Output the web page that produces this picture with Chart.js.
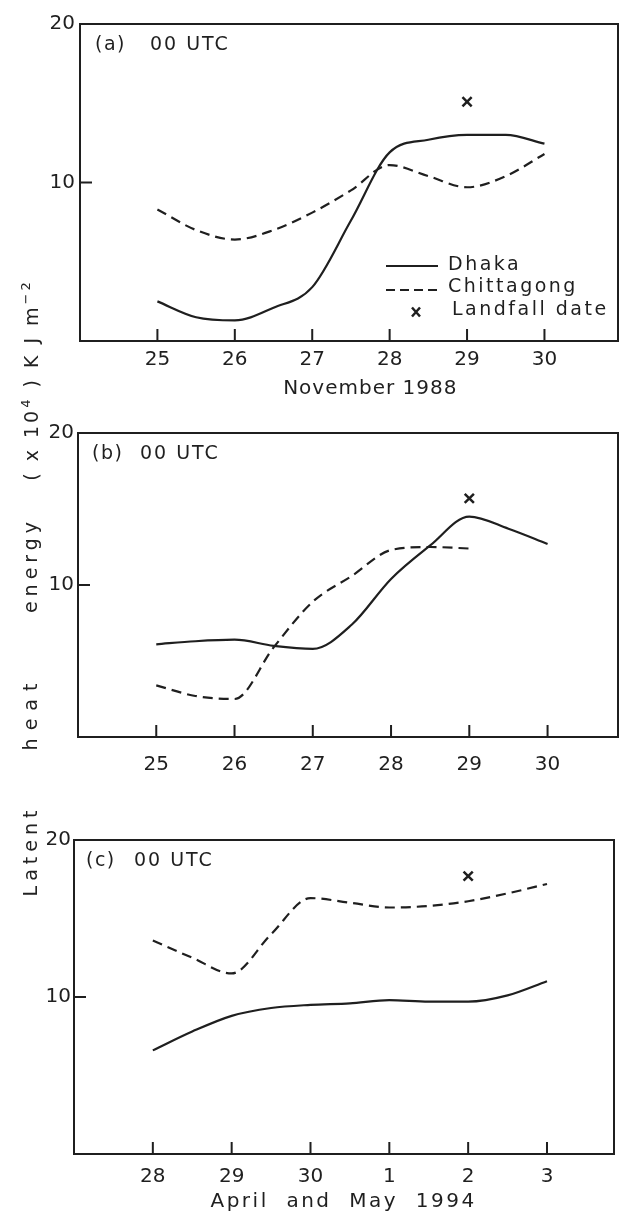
<!DOCTYPE html>
<html>
<head>
<meta charset="utf-8">
<script src="https://cdn.jsdelivr.net/npm/chart.js@4"></script>
<style>
  body { margin: 0; background: #fff; }
  #page { position: relative; width: 627px; height: 1212px; font-family: 'DejaVu Sans', sans-serif; color: #222; }
  .panel { position: absolute; left: 0; width: 627px; }
  .ylab { position: absolute; left: 30px; white-space: nowrap; font-size: 19px; line-height: 1; transform: translate(-50%, -50%) rotate(-90deg); }
  .ylab sup { font-size: 13px; vertical-align: 8px; }
</style>
</head>
<body>
<div id="page">
  <div class="panel" style="top:0;height:400px"><canvas id="chartA"></canvas></div>
  <div class="panel" style="top:410px;height:370px"><canvas id="chartB"></canvas></div>
  <div class="panel" style="top:815px;height:397px"><canvas id="chartC"></canvas></div>
  <span class="ylab" style="top:851px;letter-spacing:5px">Latent</span>
  <span class="ylab" style="top:713px;letter-spacing:8px">heat</span>
  <span class="ylab" style="top:565px;letter-spacing:5px">energy</span>
  <span class="ylab" style="top:380px;letter-spacing:3px">( x 10<sup>4</sup> ) K J m<sup>&minus;2</sup></span>
</div>
<script>
const ink = '#1f1f1f';
Chart.defaults.font.family = 'DejaVu Sans';
Chart.defaults.color = ink;

// (a) November 1988
const aDays = [25, 25.5, 26, 26.5, 27, 27.5, 28, 28.5, 29, 29.5, 30];
const aDhaka = [2.5, 1.5, 1.3, 2.1, 3.4, 7.6, 11.9, 12.7, 13.0, 13.0, 12.45];
const aChittagong = [8.3, 7.0, 6.4, 7.0, 8.1, 9.5, 11.1, 10.4, 9.7, 10.4, 11.8];
const aLandfall = [29, 15.1];
const aTicks = [25, 26, 27, 28, 29, 30];

// (b) November 1988
const bDays = [25, 25.5, 26, 26.5, 27, 27.5, 28, 28.5, 29, 29.5, 30];
const bDhaka = [6.1, 6.3, 6.4, 6.0, 5.8, 7.4, 10.4, 12.6, 14.5, 13.7, 12.7];
const bChittDays = [25, 25.5, 26, 26.5, 27, 27.5, 28, 28.5, 29];
const bChittagong = [3.4, 2.7, 2.5, 5.9, 8.9, 10.6, 12.3, 12.5, 12.4];
const bLandfall = [29, 15.7];
const bTicks = [25, 26, 27, 28, 29, 30];

// (c) April and May 1994 (28 Apr .. 3 May as positions 0..5)
const cDays = [0, 0.5, 1, 1.5, 2, 2.5, 3, 3.5, 4, 4.5, 5];
const cDhaka = [6.6, 7.8, 8.8, 9.3, 9.5, 9.6, 9.8, 9.7, 9.7, 10.1, 11.0];
const cChittagong = [13.6, 12.5, 11.5, 14.0, 16.3, 16.0, 15.7, 15.8, 16.1, 16.6, 17.2];
const cLandfall = [4, 17.7];
const cTicks = [0, 1, 2, 3, 4, 5];
const cTickLabels = ['28', '29', '30', '1', '2', '3'];

const yTicks = [10, 20];

function pts(xs, ys) {
  return xs.map((x, i) => ({ x: x, y: ys[i] }));
}

const decor = {
  id: 'decor',
  afterDatasetsDraw(chart, args, o) {
    const { ctx, chartArea: a, scales } = chart;
    ctx.save();
    ctx.strokeStyle = ink;
    ctx.fillStyle = ink;
    ctx.lineWidth = 2;
    ctx.strokeRect(a.left, a.top, a.right - a.left, a.bottom - a.top);
    ctx.beginPath();
    scales.x.ticks.forEach(t => {
      const px = scales.x.getPixelForValue(t.value);
      ctx.moveTo(px, a.bottom);
      ctx.lineTo(px, a.bottom - 12);
    });
    const py = scales.y.getPixelForValue(10);
    ctx.moveTo(a.left, py);
    ctx.lineTo(a.left + 12, py);
    ctx.stroke();

    ctx.font = '19px "DejaVu Sans"';
    ctx.textBaseline = 'middle';
    ctx.letterSpacing = '1.5px';
    ctx.fillText(o.tag, a.left + o.tagDx, a.top + 21);
    ctx.letterSpacing = '2px';
    ctx.fillText('00 UTC', a.left + o.utcDx, a.top + 21);

    if (o.xTitle) {
      ctx.font = '20px "DejaVu Sans"';
      ctx.letterSpacing = o.xTitleSpacing;
      ctx.textAlign = 'center';
      ctx.fillText(o.xTitle, scales.x.getPixelForValue(o.xTitleAt), o.xTitleY);
      ctx.textAlign = 'left';
    }

    if (o.legend) {
      const L = o.legend;
      ctx.font = '19px "DejaVu Sans"';
      ctx.letterSpacing = '2.5px';
      ctx.lineWidth = 2;
      ctx.beginPath();
      ctx.moveTo(L.x, L.y);
      ctx.lineTo(L.x + 52, L.y);
      ctx.stroke();
      ctx.setLineDash([9, 5]);
      ctx.beginPath();
      ctx.moveTo(L.x, L.y + 24);
      ctx.lineTo(L.x + 54, L.y + 24);
      ctx.stroke();
      ctx.setLineDash([]);
      const mx = L.x + 30, my = L.y + 46;
      ctx.lineWidth = 2.5;
      ctx.beginPath();
      ctx.moveTo(mx - 4, my - 4.5); ctx.lineTo(mx + 4, my + 4.5);
      ctx.moveTo(mx + 4, my - 4.5); ctx.lineTo(mx - 4, my + 4.5);
      ctx.stroke();
      ctx.fillText('Dhaka', L.x + 62, L.y - 1);
      ctx.fillText('Chittagong', L.x + 62, L.y + 21);
      ctx.fillText('Landfall date', L.x + 66, L.y + 44);
    }
    ctx.restore();
  }
};

function makeChart(id, cfg) {
  const lineDs = (label, data, dash) => ({
    label: label,
    data: data,
    borderColor: ink,
    borderWidth: 2.2,
    borderDash: dash,
    pointRadius: 0,
    fill: false,
    cubicInterpolationMode: 'monotone'
  });
  return new Chart(document.getElementById(id), {
    type: 'line',
    data: {
      datasets: [
        lineDs('Dhaka', cfg.dhaka, []),
        lineDs('Chittagong', cfg.chitt, [10, 6]),
        {
          label: 'Landfall date',
          data: [{ x: cfg.landfall[0], y: cfg.landfall[1] }],
          showLine: false,
          pointStyle: 'crossRot',
          pointRadius: 6.5,
          borderColor: ink,
          borderWidth: 2.5
        }
      ]
    },
    options: {
      responsive: true,
      maintainAspectRatio: false,
      animation: false,
      layout: { padding: { top: cfg.top, right: cfg.right, left: 0, bottom: 0 } },
      plugins: {
        legend: { display: false },
        tooltip: { enabled: false },
        decor: cfg.decor
      },
      scales: {
        x: {
          type: 'linear',
          min: cfg.xMin,
          max: cfg.xMax,
          grid: { display: false, drawTicks: false },
          border: { display: false },
          ticks: {
            font: { size: 20 },
            color: ink,
            padding: cfg.xPad,
            callback: cfg.xLabel
          },
          afterBuildTicks: s => { s.ticks = cfg.xTicks.map(v => ({ value: v })); },
          afterFit: s => { s.height = cfg.xHeight; }
        },
        y: {
          min: 0,
          max: 20,
          grid: { display: false, drawTicks: false },
          border: { display: false },
          ticks: { font: { size: 20 }, color: ink, padding: cfg.yPad },
          afterBuildTicks: s => { s.ticks = yTicks.map(v => ({ value: v })); },
          afterFit: s => { s.width = cfg.left; }
        }
      }
    },
    plugins: [decor]
  });
}

makeChart('chartA', {
  dhaka: pts(aDays, aDhaka),
  chitt: pts(aDays, aChittagong),
  landfall: aLandfall,
  xMin: 24, xMax: 30.95, xTicks: aTicks, xLabel: v => String(v),
  top: 24, right: 1, left: 80, xHeight: 59, xPad: 7, yPad: 5,
  decor: {
    tag: '(a)', tagDx: 15, utcDx: 70,
    xTitle: 'November 1988', xTitleAt: 27.75, xTitleY: 389, xTitleSpacing: '1px',
    legend: { x: 386, y: 266 }
  }
});

makeChart('chartB', {
  dhaka: pts(bDays, bDhaka),
  chitt: pts(bChittDays, bChittagong),
  landfall: bLandfall,
  xMin: 24, xMax: 30.9, xTicks: bTicks, xLabel: v => String(v),
  top: 23, right: 7, left: 78, xHeight: 43, xPad: 16, yPad: 4,
  decor: { tag: '(b)', tagDx: 14, utcDx: 62 }
});

makeChart('chartC', {
  dhaka: pts(cDays, cDhaka),
  chitt: pts(cDays, cChittagong),
  landfall: cLandfall,
  xMin: -1, xMax: 5.85, xTicks: cTicks, xLabel: (v, i) => cTickLabels[i],
  top: 25, right: 13, left: 74, xHeight: 58, xPad: 11, yPad: 3,
  decor: {
    tag: '(c)', tagDx: 12, utcDx: 60,
    xTitle: 'April  and  May  1994', xTitleAt: 2.42, xTitleY: 387, xTitleSpacing: '2.5px'
  }
});
</script>
</body>
</html>
